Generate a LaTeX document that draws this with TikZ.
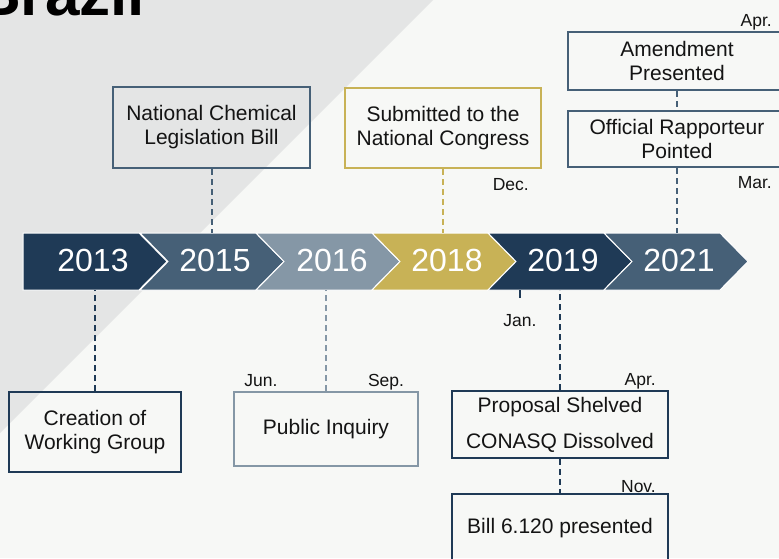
\documentclass[tikz,border=0pt]{standalone}
\usepackage{fontspec}
\setmainfont{Liberation Sans}
\definecolor{navy}{HTML}{1F3A56}
\definecolor{slate}{HTML}{466077}
\definecolor{steel}{HTML}{8597A6}
\definecolor{gold}{HTML}{C8B256}
\definecolor{bgwhite}{HTML}{F7F8F6}
\definecolor{bggray}{HTML}{E4E5E5}
\definecolor{ink}{HTML}{141414}
\begin{document}
\begin{tikzpicture}[x=1pt,y=-1pt,
  evbox/.style={draw,line width=2pt,rectangle,inner sep=0pt,align=center,text=ink,font=\fontsize{21}{24}\selectfont},
  mon/.style={text=ink,font=\fontsize{17.5}{20}\selectfont,inner sep=0pt},
  yearlbl/.style={text=white,font=\fontsize{32}{36}\selectfont,inner sep=0pt},
  link/.style={line width=2pt,dash pattern=on 6pt off 4pt}]
\useasboundingbox (0,0) rectangle (779,558);
\clip (0,0) rectangle (779,558);
\fill[bgwhite] (0,0) rectangle (779,558);
\fill[bggray] (0,0) -- (433,0) -- (0,433) -- cycle;
\node[anchor=base west, inner sep=0pt, font=\bfseries\fontsize{62}{70}\selectfont, text=black] (title) at (-24,15) {Brazil};

% timeline bar
\filldraw[fill=navy, draw=white, line width=1pt] (23,233) -- (139,233) -- (167,261.5) -- (139,290) -- (23,290) -- cycle;
\foreach \L/\c in {140/slate,256/steel,372/gold,488/navy,604/slate}{
  \filldraw[fill=\c, draw=white, line width=1pt] (\L,233) -- ++(116,0) -- ++(28,28.5) -- ++(-28,28.5) -- ++(-116,0) -- ++(28,-28.5) -- cycle;
}
\coordinate (bartop) at (0,233);
\coordinate (barbot) at (0,290);
\node[yearlbl] (y2013) at (93,260.5) {2013};
\node[yearlbl] (y2015) at (215,260.5) {2015};
\node[yearlbl] (y2016) at (332,260.5) {2016};
\node[yearlbl] (y2018) at (447,260.5) {2018};
\node[yearlbl] (y2019) at (563,260.5) {2019};
\node[yearlbl] (y2021) at (679,260.5) {2021};

% event boxes
\node[evbox, draw=slate, minimum width=197, minimum height=81] (nclb) at (211.5,127.5) {National Chemical\\Legislation Bill};
\node[evbox, draw=gold, minimum width=196, minimum height=80] (subm) at (443,128) {Submitted to the\\National Congress};
\node[evbox, draw=slate, minimum width=218, minimum height=58] (amend) at (677,61) {Amendment\\Presented};
\node[evbox, draw=slate, minimum width=218, minimum height=56] (offrap) at (677,139) {Official Rapporteur\\Pointed};
\node[evbox, draw=navy, minimum width=172, minimum height=80] (creat) at (95,432) {Creation of\\Working Group};
\node[evbox, draw=steel, minimum width=184, minimum height=74] (pubinq) at (326,429) {Public Inquiry};
\node[evbox, draw=navy, minimum width=216, minimum height=67] (propo) at (560,424.5) {Proposal Shelved\\[12pt]CONASQ Dissolved};
\node[evbox, draw=navy, minimum width=216, minimum height=68] (bill) at (560,528) {Bill 6.120 presented};

% connectors
\draw[link, slate] (nclb.south) -- (nclb.south |- bartop);
\draw[link, gold] (subm.south) -- (subm.south |- bartop);
\draw[link, slate] (amend.south) -- (offrap.north);
\draw[link, slate] (offrap.south) -- (offrap.south |- bartop);
\draw[link, navy] (creat.north) -- (creat.north |- barbot);
\draw[link, steel] (pubinq.north) -- (pubinq.north |- barbot);
\draw[link, navy] (propo.north) -- (propo.north |- barbot);
\draw[link, navy] (propo.south) -- (bill.north);
\coordinate (jantick) at (520,298);
\draw[navy, line width=2pt] (jantick) -- (jantick |- barbot);

% month labels
\node[mon, anchor=base east] (dec) at (529,190) {Dec.};
\node[mon, anchor=base east] (aprtop) at (772,26) {Apr.};
\node[mon, anchor=base east] (mar) at (772,188) {Mar.};
\node[mon, anchor=base] (jun) at (261,386) {Jun.};
\node[mon, anchor=base] (sep) at (386,386) {Sep.};
\node[mon, anchor=base] (jan) at (520,326) {Jan.};
\node[mon, anchor=base east] (aprlow) at (656,385) {Apr.};
\node[mon, anchor=base east] (nov) at (656,492) {Nov.};
\end{tikzpicture}
\end{document}
